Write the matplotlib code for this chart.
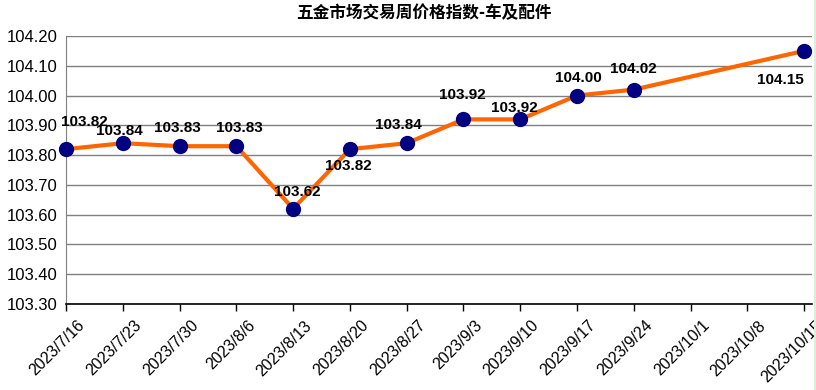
import matplotlib
matplotlib.use('Agg')
import matplotlib.pyplot as plt
import matplotlib.transforms as mtransforms
from matplotlib.patches import Rectangle

plt.rcParams['font.family'] = ['Liberation Sans', 'Noto Sans CJK SC', 'DejaVu Sans']

# weekly dates (category axis) and index values; 10/1 and 10/8 have no data
dates = ['2023/7/16', '2023/7/23', '2023/7/30', '2023/8/6', '2023/8/13',
         '2023/8/20', '2023/8/27', '2023/9/3', '2023/9/10', '2023/9/17',
         '2023/9/24', '2023/10/1', '2023/10/8', '2023/10/15']
data_dates = ['2023/7/16', '2023/7/23', '2023/7/30', '2023/8/6', '2023/8/13',
              '2023/8/20', '2023/8/27', '2023/9/3', '2023/9/10', '2023/9/17',
              '2023/9/24', '2023/10/15']
values = [103.82, 103.84, 103.83, 103.83, 103.62, 103.82, 103.84,
          103.92, 103.92, 104.00, 104.02, 104.15]
yticks = [103.30, 103.40, 103.50, 103.60, 103.70, 103.80, 103.90,
          104.00, 104.10, 104.20]

W, H = 816, 390
fig = plt.figure(figsize=(W / 100, H / 100), dpi=100)
ax = fig.add_axes([65.5 / W, (H - 304) / H, (812 - 65.5) / W, (304 - 36) / H])

xpos = [dates.index(d) for d in data_dates]
ax.plot(xpos, values, color='#FF6600', lw=3, zorder=3, clip_on=False)
ax.plot(xpos, values, 'o', color='#000080', ms=10, zorder=4, clip_on=False)

# label offsets in pixels (dx, dy), mimicking the Excel placement
offsets = [(18, 27), (-3, 12), (-2, 18), (3, 18), (4, 17), (-2, -17),
           (-8, 18), (-1, 24), (-6, 11), (1, 18), (0, 21), (-24, -29)]
for x, v, (dx, dy) in zip(xpos, values, offsets):
    ax.annotate(f'{v:.2f}', (x, v), xytext=(dx, dy), textcoords='offset pixels',
                ha='center', va='center', fontsize=11, fontweight='bold',
                color='black', zorder=5, annotation_clip=False)

ax.set_xlim(-0.01, 13.14)
ax.set_ylim(103.30, 104.20)
ax.set_yticks(yticks)
ax.set_yticklabels([f'{t:.2f}' for t in yticks], fontsize=12)
ax.tick_params(axis='y', length=0, pad=6)
ax.yaxis.grid(True, color='#808080', lw=1)
ax.set_axisbelow(True)

ax.set_xticks(range(len(dates)))
ax.set_xticklabels(dates, rotation=45, ha='right', rotation_mode='anchor',
                   fontsize=11.5)
ax.tick_params(axis='x', length=5, width=1, color='black', pad=5, direction='out')
shift = mtransforms.ScaledTranslation(11 / 100, 0, fig.dpi_scale_trans)
for lbl in ax.get_xticklabels():
    lbl.set_transform(lbl.get_transform() + shift)

for s in ['top', 'right']:
    ax.spines[s].set_visible(False)
ax.spines['left'].set_color('#808080')
ax.spines['bottom'].set_color('black')
ax.spines['bottom'].set_linewidth(1.2)

fig.text(424 / W, 1 - 13 / H, '五金市场交易周价格指数-车及配件', ha='center', va='center',
         fontsize=12, fontweight='bold', family=['Noto Sans CJK SC', 'DejaVu Sans'])

# light green strip at the right edge of the screenshot
fig.patches.append(Rectangle((814 / W, 0), 2 / W, 1, transform=fig.transFigure,
                             facecolor='#dcefdc', edgecolor='none', zorder=10))

fig.savefig('out.png', dpi=100)
